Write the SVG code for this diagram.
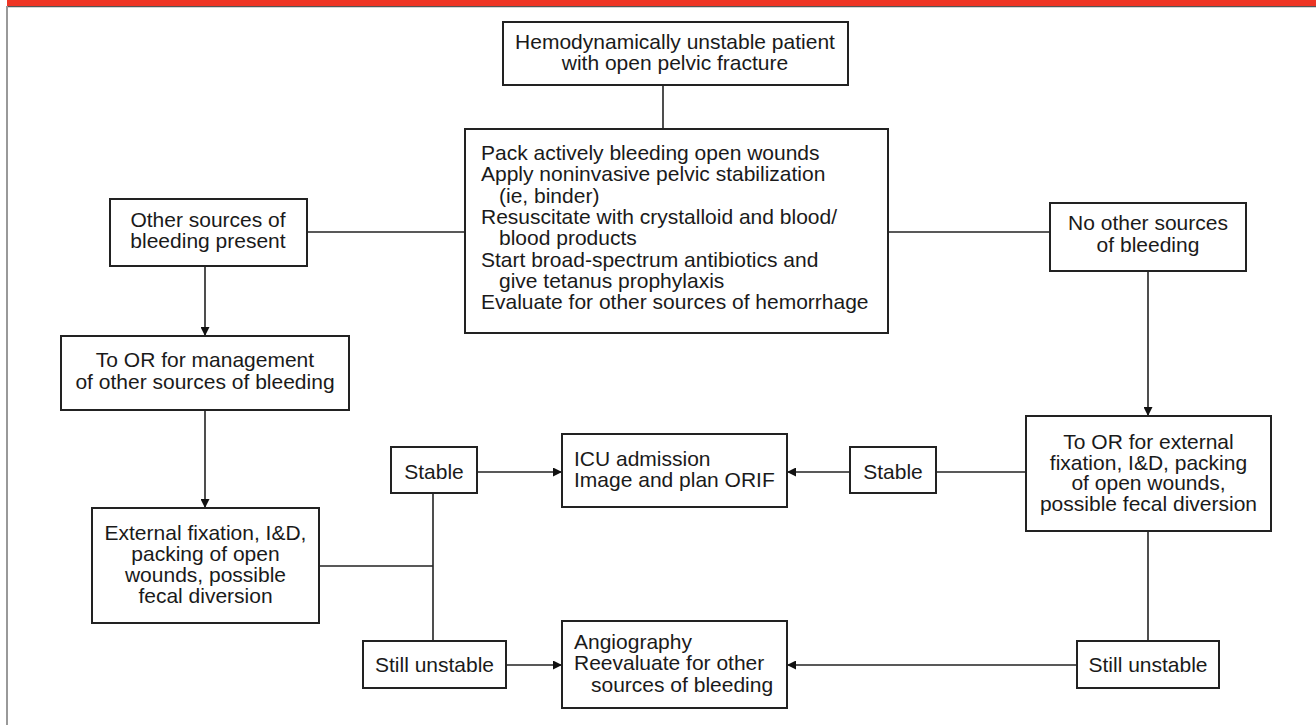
<svg xmlns="http://www.w3.org/2000/svg" width="1316" height="725" viewBox="0 0 1316 725">
<defs>
<style>
.box{fill:#fff;stroke:#222;stroke-width:2}
.t{font-family:"Liberation Sans",Arial,Helvetica,sans-serif;font-size:21px;fill:#1a1a1a}
.c{text-anchor:middle}
.ln{stroke:#222;stroke-width:1.6;fill:none}
.ar{stroke:#222;stroke-width:1.6;fill:none;marker-end:url(#ah)}
</style>
<marker id="ah" viewBox="0 0 10 10" refX="10" refY="5" markerWidth="9" markerHeight="9" markerUnits="userSpaceOnUse" orient="auto">
<path d="M0,0 L10,5 L0,10 z" fill="#111"/>
</marker>
</defs>
<rect width="1316" height="725" fill="#fff"/>
<rect x="7" y="0" width="1309" height="6" fill="#EE3524"/>
<line x1="7" y1="6.6" x2="1316" y2="6.6" stroke="#555" stroke-width="1.2"/>
<line x1="7" y1="6" x2="7" y2="725" stroke="#999" stroke-width="2"/>

<g id="connectors">
<line class="ln" x1="663" y1="85" x2="663" y2="129"/>
<line class="ln" x1="465" y1="232" x2="307" y2="232"/>
<line class="ln" x1="888" y1="232" x2="1050" y2="232"/>
<line class="ar" x1="205" y1="266" x2="205" y2="336"/>
<line class="ar" x1="205" y1="410" x2="205" y2="508"/>
<line class="ln" x1="319" y1="566" x2="433" y2="566"/>
<line class="ln" x1="433" y1="493" x2="433" y2="641"/>
<line class="ar" x1="477" y1="472" x2="562" y2="472"/>
<line class="ar" x1="506" y1="665" x2="562" y2="665"/>
<line class="ar" x1="1148" y1="271" x2="1148" y2="416"/>
<line class="ln" x1="1026" y1="472" x2="936" y2="472"/>
<line class="ar" x1="850" y1="472" x2="787" y2="472"/>
<line class="ln" x1="1148" y1="531" x2="1148" y2="641"/>
<line class="ar" x1="1077" y1="665" x2="787" y2="665"/>
</g>

<g id="start">
<rect class="box" x="503" y="22" width="345" height="63"/>
<text class="t c" x="675" y="49">Hemodynamically unstable patient</text>
<text class="t c" x="675" y="70">with open pelvic fracture</text>
</g>

<g id="initial">
<rect class="box" x="465" y="129" width="423" height="204"/>
<text class="t" x="481" y="160">Pack actively bleeding open wounds</text>
<text class="t" x="481" y="181.3">Apply noninvasive pelvic stabilization</text>
<text class="t" x="499" y="202.6">(ie, binder)</text>
<text class="t" x="481" y="223.9">Resuscitate with crystalloid and blood/</text>
<text class="t" x="499" y="245.2">blood products</text>
<text class="t" x="481" y="266.5">Start broad-spectrum antibiotics and</text>
<text class="t" x="499" y="287.8">give tetanus prophylaxis</text>
<text class="t" x="481" y="309.1">Evaluate for other sources of hemorrhage</text>
</g>

<g id="other-sources">
<rect class="box" x="110" y="199" width="197" height="67"/>
<text class="t c" x="208" y="227">Other sources of</text>
<text class="t c" x="208" y="248">bleeding present</text>
</g>

<g id="no-other-sources">
<rect class="box" x="1050" y="203" width="196" height="68"/>
<text class="t c" x="1148" y="230">No other sources</text>
<text class="t c" x="1148" y="252">of bleeding</text>
</g>

<g id="or-management">
<rect class="box" x="61" y="336" width="288" height="74"/>
<text class="t c" x="205" y="367">To OR for management</text>
<text class="t c" x="205" y="389">of other sources of bleeding</text>
</g>

<g id="ext-fixation">
<rect class="box" x="92" y="508" width="227" height="115"/>
<text class="t c" x="205.5" y="540">External fixation, I&amp;D,</text>
<text class="t c" x="205.5" y="561">packing of open</text>
<text class="t c" x="205.5" y="582">wounds, possible</text>
<text class="t c" x="205.5" y="603">fecal diversion</text>
</g>

<g id="or-external">
<rect class="box" x="1026" y="416" width="245" height="115"/>
<text class="t c" x="1148.5" y="449">To OR for external</text>
<text class="t c" x="1148.5" y="469.5">fixation, I&amp;D, packing</text>
<text class="t c" x="1148.5" y="490">of open wounds,</text>
<text class="t c" x="1148.5" y="511">possible fecal diversion</text>
</g>

<g id="stable-left">
<rect class="box" x="391" y="447" width="86" height="46"/>
<text class="t c" x="434" y="479">Stable</text>
</g>

<g id="stable-right">
<rect class="box" x="850" y="447" width="86" height="46"/>
<text class="t c" x="893" y="479">Stable</text>
</g>

<g id="icu">
<rect class="box" x="562" y="434" width="225" height="73"/>
<text class="t" x="574" y="466">ICU admission</text>
<text class="t" x="574" y="487">Image and plan ORIF</text>
</g>

<g id="unstable-left">
<rect class="box" x="363" y="641" width="143" height="47"/>
<text class="t c" x="434.5" y="672">Still unstable</text>
</g>

<g id="unstable-right">
<rect class="box" x="1077" y="641" width="142" height="47"/>
<text class="t c" x="1148" y="672">Still unstable</text>
</g>

<g id="angiography">
<rect class="box" x="562" y="621" width="225" height="87"/>
<text class="t" x="574" y="649">Angiography</text>
<text class="t" x="574" y="670">Reevaluate for other</text>
<text class="t" x="591" y="692">sources of bleeding</text>
</g>
</svg>
